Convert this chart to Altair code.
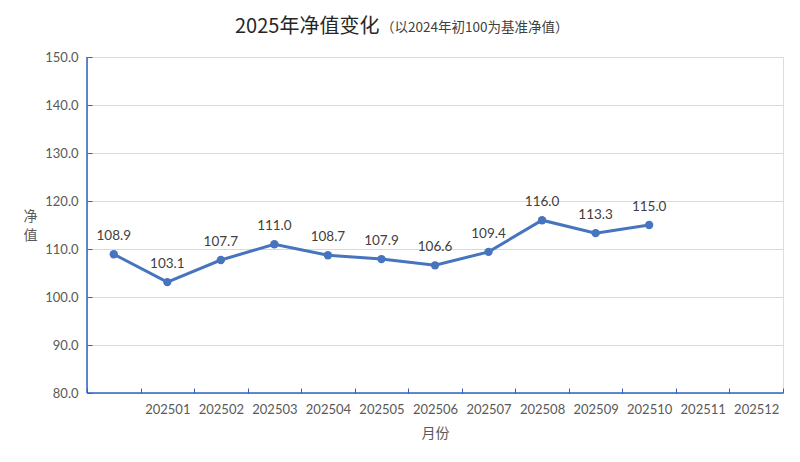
import altair as alt
import pandas as pd

months = ["", "202501", "202502", "202503", "202504", "202505", "202506",
          "202507", "202508", "202509", "202510", "202511", "202512"]
data_months = ["", "202501", "202502", "202503", "202504", "202505", "202506",
               "202507", "202508", "202509", "202510"]
nav = [108.9, 103.1, 107.7, 111.0, 108.7, 107.9, 106.6, 109.4, 116.0, 113.3, 115.0]
y_ticks = [80, 90, 100, 110, 120, 130, 140, 150]

title_main = "2025年净值变化"
title_sub = "（以2024年初100为基准净值）"

df = pd.DataFrame({"month": data_months, "nav": nav})
one = pd.DataFrame({"k": [0]})

W, H = 696, 336
BLUE = "#4674BE"
AXIS_BLUE = "#2F62C0"
CJK = "Noto Sans CJK SC"
NUM = "Lato"

x_enc = alt.X("month:N", sort=months,
              scale=alt.Scale(domain=months, paddingInner=0, paddingOuter=0),
              axis=alt.Axis(title="月份", labelAngle=0, domain=False, offset=-5,
                            tickBand="extent", tickSize=5, tickColor=AXIS_BLUE,
                            tickWidth=1, labelPadding=10, labelFont=NUM,
                            labelFontSize=13, labelColor="#595959",
                            titleFont=CJK, titleFontSize=14, titleColor="#595959",
                            titleFontWeight="normal", titlePadding=10, grid=False))
y_enc = alt.Y("nav:Q",
              scale=alt.Scale(domain=[80, 150], nice=False, zero=False),
              axis=alt.Axis(title=["净", "值"], values=y_ticks, format=".1f",
                            domain=False, offset=-5, tickSize=5,
                            tickColor=AXIS_BLUE, tickWidth=1, labelPadding=9,
                            labelFont=NUM, labelFontSize=13, labelColor="#595959",
                            grid=True, gridColor="#d9d9d9", gridWidth=1,
                            titleAngle=0, titleFont=CJK, titleFontSize=14,
                            titleColor="#595959", titleFontWeight="normal",
                            titleAlign="center", titleBaseline="top",
                            titleX=-62, titleY=152, titleLineHeight=19))

base = alt.Chart(df)

line = base.mark_line(color=BLUE, strokeWidth=3).encode(x=x_enc, y=y_enc)
pts = base.mark_point(filled=True, color=BLUE, size=70, opacity=1).encode(x=x_enc, y=y_enc)
labels = base.mark_text(dy=-18, font=NUM, fontSize=13.5, color="#404040").encode(
    x=x_enc, y=y_enc, text=alt.Text("nav:Q", format=".1f"))

frame_left = alt.Chart(one).mark_rule(color=AXIS_BLUE, strokeWidth=1.5).encode(
    x=alt.value(0), y=alt.value(0), y2=alt.value(H))
frame_bottom = alt.Chart(one).mark_rule(color=AXIS_BLUE, strokeWidth=1.5).encode(
    x=alt.value(0), x2=alt.value(W), y=alt.value(H))

t_main = alt.Chart(one).mark_text(text=title_main, font=CJK, fontSize=20, fontWeight=400,
                                  color="#262626", align="left",
                                  baseline="alphabetic").encode(
    x=alt.value(148), y=alt.value(-24))
t_sub = alt.Chart(one).mark_text(text=title_sub, font=CJK, fontSize=13.5, fontWeight=400,
                                 color="#404040", align="left",
                                 baseline="alphabetic").encode(
    x=alt.value(294), y=alt.value(-25))

chart = alt.layer(line, pts, labels, frame_left, frame_bottom, t_main, t_sub).properties(
    width=W, height=H,
    autosize=alt.AutoSizeParams(type="none"),
    padding={"left": 79, "top": 49, "right": 9, "bottom": 56},
).configure_view(stroke=None).configure(background="white")

chart.save("out.html", embed_options={"renderer": "svg", "actions": False})
